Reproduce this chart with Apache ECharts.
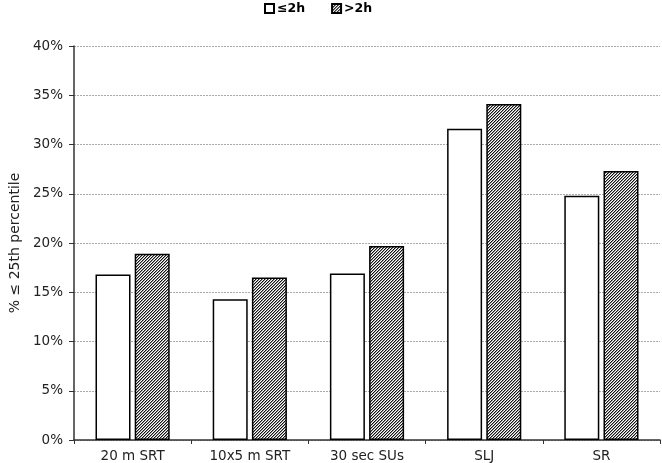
<!DOCTYPE html>
<html>
<head>
<meta charset="utf-8">
<script src="https://cdn.jsdelivr.net/npm/echarts@6/dist/echarts.min.js"></script>
<style>html,body{margin:0;padding:0;background:#fff}#c{width:662px;height:463px}</style>
</head>
<body>
<div id="c"></div>
<script>
var categories = ['20 m SRT', '10x5 m SRT', '30 sec SUs', 'SLJ', 'SR'];
var seriesNames = ['\u22642h', '>2h'];
var le2h = [16.8, 14.3, 16.9, 31.6, 24.8];
var gt2h = [18.9, 16.5, 19.7, 34.1, 27.3];
var yTicks = [0, 5, 10, 15, 20, 25, 30, 35, 40];

function hatch() {
  var s = 3;
  var cv = document.createElement('canvas');
  cv.width = s; cv.height = s;
  var g = cv.getContext('2d');
  var img = g.createImageData(s, s);
  for (var y = 0; y < s; y++) {
    for (var x = 0; x < s; x++) {
      var k = (x + y) % s;
      var v = k === 0 ? 20 : (k === 1 ? 150 : 255);
      var i = (y * s + x) * 4;
      img.data[i] = v; img.data[i + 1] = v; img.data[i + 2] = v; img.data[i + 3] = 255;
    }
  }
  g.putImageData(img, 0, 0);
  return cv;
}

var chart = echarts.init(document.getElementById('c'), null, {renderer: 'canvas'});
var font = 'Verdana, "DejaVu Sans", sans-serif';
chart.setOption({
  animation: false,
  textStyle: {fontFamily: font},
  legend: {
    top: 2, left: 264, icon: 'rect', padding: 0,
    itemWidth: 9, itemHeight: 9, itemGap: 26,
    textStyle: {fontFamily: font, fontWeight: 'bold', fontSize: 12.5, color: '#000', padding: [0, 0, 0, -2]},
    data: seriesNames
  },
  grid: {left: 69, right: 2, top: 46, bottom: 22, containLabel: false},
  xAxis: {
    type: 'category', data: categories,
    axisLine: {lineStyle: {color: '#333', width: 1.5}},
    axisTick: {show: true, length: 4, inside: false, lineStyle: {color: '#333'}},
    axisLabel: {color: '#222', fontSize: 13.5, margin: 9, fontFamily: font}
  },
  yAxis: {
    type: 'value', min: yTicks[0], max: yTicks[yTicks.length - 1], interval: 5,
    name: '% \u2264 25th percentile', nameLocation: 'middle', nameGap: 52,
    nameTextStyle: {color: '#222', fontSize: 14, fontFamily: font},
    axisLine: {show: true, lineStyle: {color: '#333', width: 1.5}},
    axisTick: {show: true, length: 5, lineStyle: {color: '#333'}},
    axisLabel: {color: '#222', fontSize: 13.5, margin: 11, formatter: '{value}%', fontFamily: font},
    splitLine: {lineStyle: {color: '#aaa', type: [2, 1], width: 1}}
  },
  series: [
    {
      name: seriesNames[0], type: 'bar', data: le2h,
      barWidth: 35, barGap: '12%',
      itemStyle: {color: '#fff', borderColor: '#000', borderWidth: 1.5}
    },
    {
      name: seriesNames[1], type: 'bar', data: gt2h,
      barWidth: 35, barGap: '12%',
      itemStyle: {color: {image: hatch(), repeat: 'repeat'}, borderColor: '#000', borderWidth: 1.5}
    }
  ]
});
</script>
</body>
</html>
